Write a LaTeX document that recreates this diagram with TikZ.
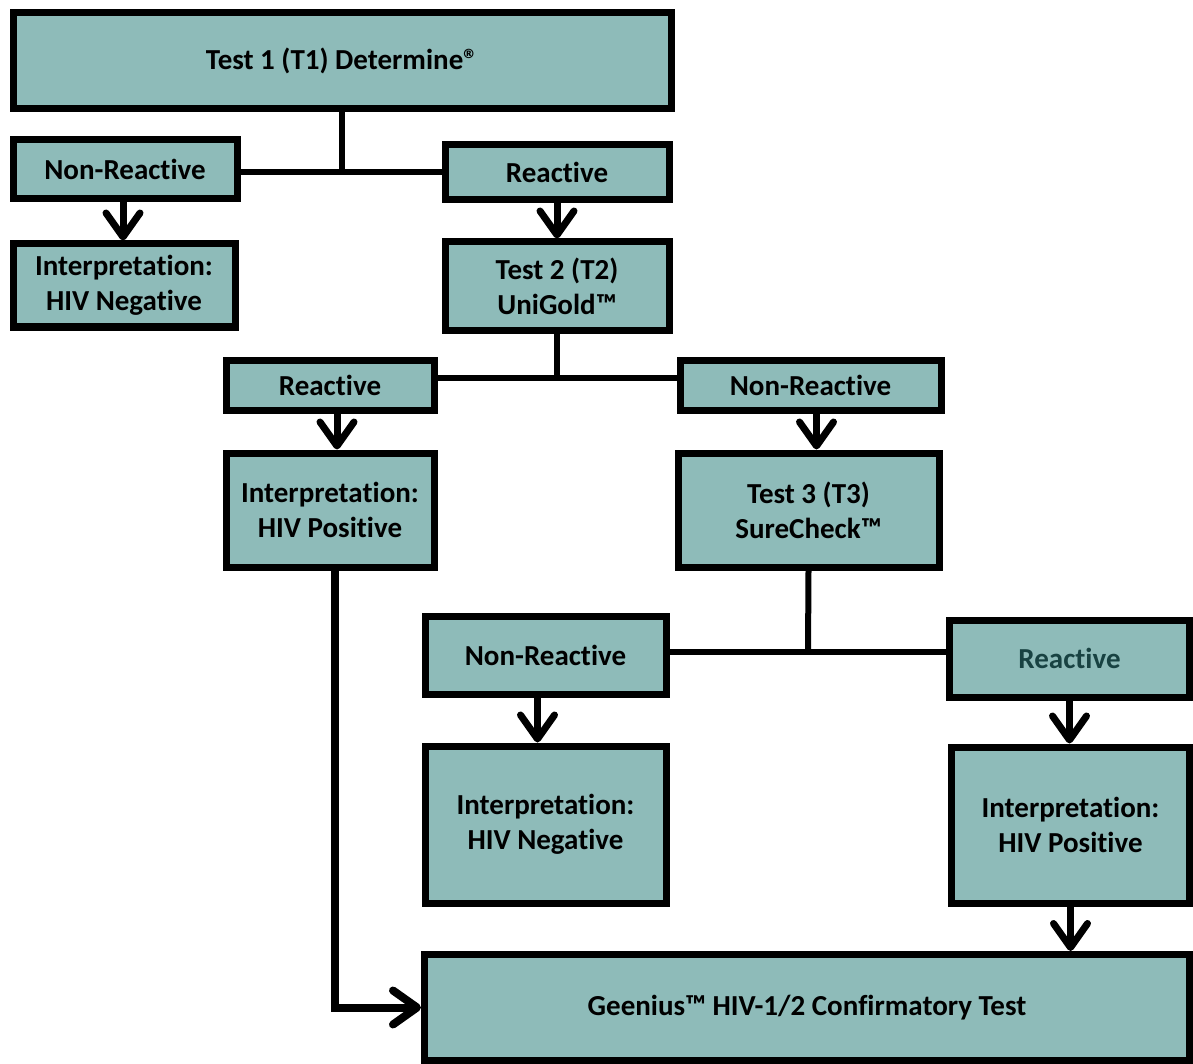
\documentclass[tikz,border=0pt]{standalone}
\usepackage{fontspec}
\setmainfont[Ligatures=NoCommon]{Carlito}
\usetikzlibrary{arrows.meta}
\definecolor{boxfill}{RGB}{142,187,185}
\definecolor{darkteal}{RGB}{24,66,66}
\begin{document}
\begin{tikzpicture}[x=1pt,y=-1pt,
  box/.style={draw, line width=7pt, fill=boxfill, align=center, inner sep=0pt,
    font=\fontsize{29}{35}\selectfont\bfseries},
  link/.style={line width=6pt},
  arr/.style={line width=7pt, -{Straight Barb[length=24pt,width=34pt,round]}}]
\useasboundingbox (0,0) rectangle (1193,1064);
\node[box, minimum width=658pt, minimum height=96pt] (t1) at (342,61) {Test 1 (T1) Determine®};
\node[box, minimum width=224pt, minimum height=59pt] (nr1) at (125,169.5) {Non-Reactive};
\node[box, minimum width=224pt, minimum height=55pt] (r1) at (557,172.5) {Reactive};
\node[box, minimum width=222pt, minimum height=83pt] (in1) at (124,285.5) {Interpretation:\\HIV Negative};
\node[box, minimum width=224pt, minimum height=88pt] (t2) at (557,286) {Test 2 (T2)\\UniGold™};
\node[box, minimum width=208pt, minimum height=50pt] (r2) at (330,385) {Reactive};
\node[box, minimum width=261pt, minimum height=50pt] (nr2) at (810.5,385) {Non-Reactive};
\node[box, minimum width=208pt, minimum height=114pt] (ip1) at (330,510) {Interpretation:\\HIV Positive};
\node[box, minimum width=261pt, minimum height=114pt] (t3) at (808.5,510) {Test 3 (T3)\\SureCheck™};
\node[box, minimum width=241pt, minimum height=78pt] (nr3) at (545.5,655) {Non-Reactive};
\node[box, minimum width=240pt, minimum height=77pt, text=darkteal] (r3) at (1069.5,658.5) {Reactive};
\node[box, minimum width=241pt, minimum height=157pt] (in2) at (545.5,824.5) {Interpretation:\\HIV Negative};
\node[box, minimum width=238pt, minimum height=156pt] (ip2) at (1070.5,825) {Interpretation:\\HIV Positive};
\node[box, minimum width=765pt, minimum height=106pt] (gen) at (807,1007.5) {Geenius™ HIV-1/2 Confirmatory Test};
\coordinate (j1) at (342,172);
\coordinate (j2) at (557,378);
\coordinate (j3) at (808,652);
\draw[link] (t1.south) -- (j1);
\draw[link] (nr1.east |- j1) -- (r1.west |- j1);
\draw[link] (t2.south) -- (j2);
\draw[link] (r2.east |- j2) -- (nr2.west |- j2);
\draw[link] (t3.south) -- (j3);
\draw[link] (nr3.east |- j3) -- (r3.west |- j3);
\draw[arr] ([xshift=-2pt]nr1.south) -- ([xshift=-2pt]nr1.south |- in1.north);
\draw[arr] (r1.south) -- (t2.north);
\draw[arr] ([xshift=7pt]r2.south) -- ([xshift=7pt]r2.south |- ip1.north);
\draw[arr] ([xshift=6pt]nr2.south) -- ([xshift=6pt]nr2.south |- t3.north);
\draw[arr] ([xshift=-8pt]nr3.south) -- ([xshift=-8pt]nr3.south |- in2.north);
\draw[arr] (r3.south) -- (r3.south |- ip2.north);
\draw[arr] (ip2.south) -- (ip2.south |- gen.north);
\draw[arr, line width=8pt] ([xshift=5pt]ip1.south) |- (gen.west);
\end{tikzpicture}
\end{document}
